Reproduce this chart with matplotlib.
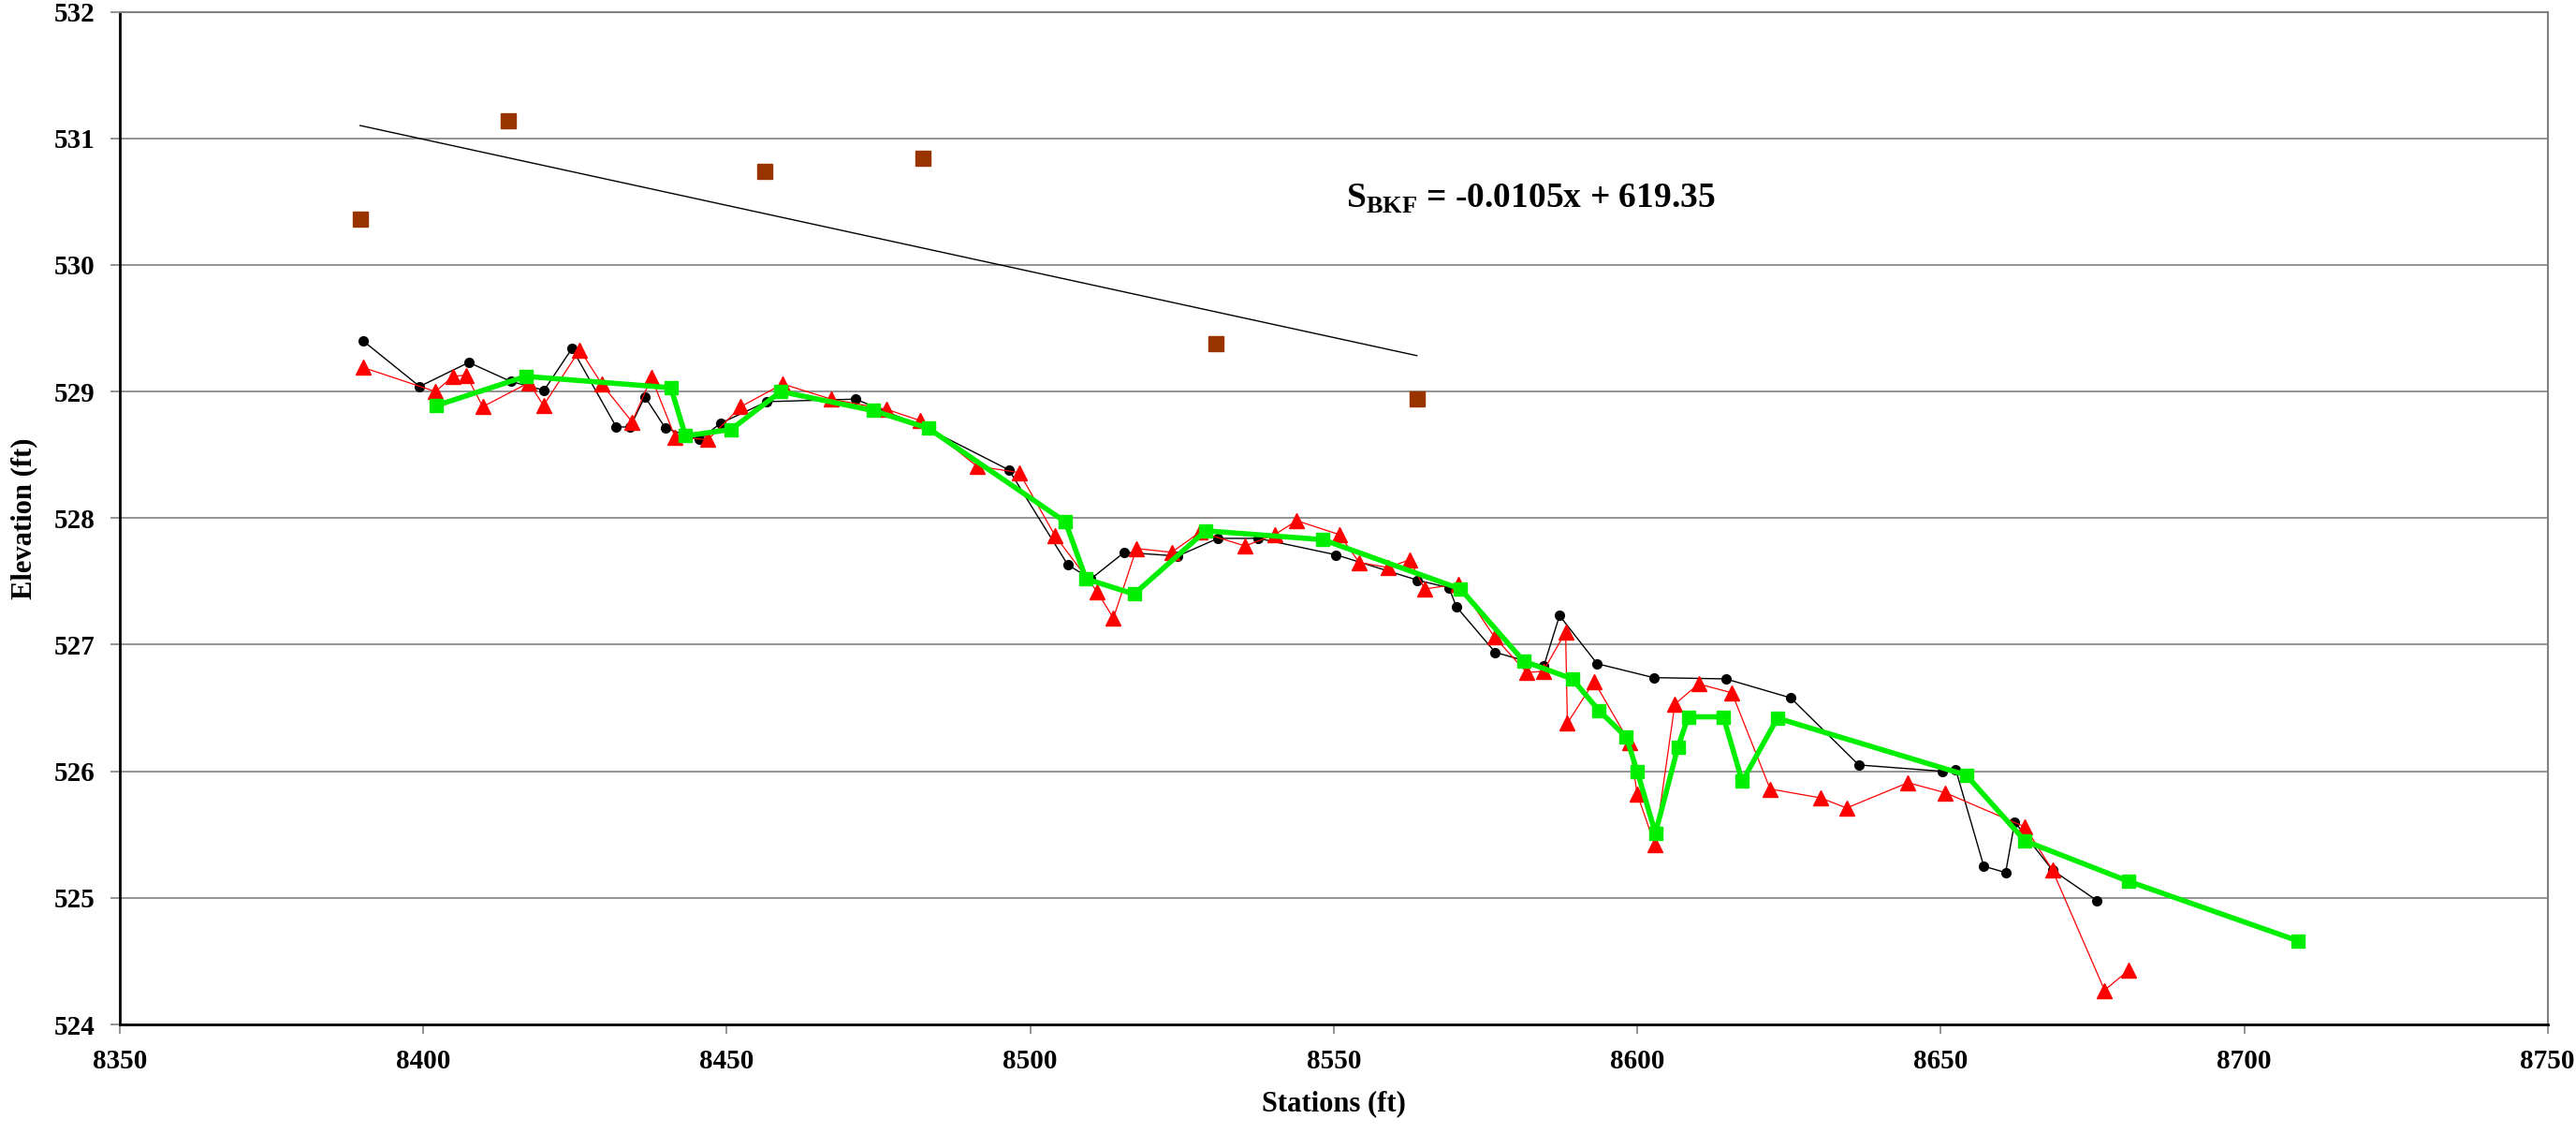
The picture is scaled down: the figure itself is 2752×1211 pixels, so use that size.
import numpy as np
import matplotlib
matplotlib.use("Agg")
import matplotlib.pyplot as plt

plt.rcParams['font.family'] = ['Liberation Serif', 'DejaVu Serif']
plt.rcParams['font.weight'] = 'bold'
plt.rcParams['mathtext.fontset'] = 'custom'
plt.rcParams['mathtext.rm'] = 'Liberation Serif:bold'
plt.rcParams['mathtext.bf'] = 'Liberation Serif:bold'

# black profile (circles)
blk_x = [8390.1, 8399.4, 8407.5, 8414.4, 8419.9, 8424.5, 8431.8, 8434.1, 8436.5, 8439.9,
         8445.5, 8449.0, 8456.6, 8471.2, 8483.0, 8496.5, 8506.2, 8510.0, 8515.5, 8524.3,
         8530.9, 8537.6, 8550.4, 8563.8, 8569.0, 8570.2, 8576.6, 8584.6, 8587.2, 8593.4,
         8602.7, 8614.6, 8625.3, 8636.5, 8650.3, 8652.5, 8657.1, 8660.7, 8662.2, 8668.4,
         8675.7]
blk_y = [529.40, 529.04, 529.23, 529.08, 529.01, 529.34, 528.72, 528.72, 528.96, 528.71,
         528.62, 528.75, 528.92, 528.94, 528.71, 528.38, 527.63, 527.52, 527.73, 527.70,
         527.84, 527.84, 527.71, 527.51, 527.45, 527.30, 526.94, 526.83, 527.23, 526.85,
         526.74, 526.73, 526.58, 526.05, 526.00, 526.01, 525.25, 525.20, 525.60, 525.22,
         524.98]

# red profile (triangles)
red_x = [8390.1, 8402.0, 8404.9, 8407.1, 8409.8, 8417.4, 8419.8, 8425.8, 8429.4, 8434.4,
         8437.6, 8441.5, 8446.9, 8452.3, 8459.2, 8467.2, 8476.3, 8481.9, 8491.2, 8498.2,
         8504.1, 8511.0, 8513.7, 8517.5, 8523.3, 8528.0, 8535.4, 8540.3, 8543.9, 8550.9,
         8554.2, 8558.9, 8562.5, 8565.0, 8570.6, 8576.5, 8581.8, 8584.5, 8588.2, 8588.5,
         8592.9, 8598.7, 8600.0, 8602.9, 8606.2, 8610.1, 8615.6, 8621.9, 8630.2, 8634.5,
         8644.6, 8650.8, 8663.9, 8668.4, 8677.0, 8681.0]
red_y = [529.19, 529.00, 529.12, 529.13, 528.88, 529.07, 528.89, 529.33, 529.06, 528.76,
         529.11, 528.64, 528.62, 528.88, 529.06, 528.94, 528.86, 528.77, 528.41, 528.36,
         527.86, 527.42, 527.21, 527.76, 527.73, 527.89, 527.78, 527.87, 527.98, 527.87,
         527.65, 527.61, 527.67, 527.44, 527.48, 527.06, 526.78, 526.79, 527.10, 526.38,
         526.71, 526.23, 525.82, 525.42, 526.53, 526.69, 526.62, 525.86, 525.79, 525.71,
         525.91, 525.83, 525.56, 525.22, 524.27, 524.43]

# green profile (squares)
grn_x = [8402.2, 8416.9, 8440.8, 8443.2, 8450.7, 8458.9, 8474.1, 8483.2, 8505.8, 8509.2,
         8517.1, 8528.9, 8548.2, 8570.9, 8581.3, 8589.3, 8593.7, 8598.2, 8600.0, 8603.0,
         8606.7, 8608.4, 8614.2, 8617.3, 8623.1, 8654.2, 8663.9, 8681.0, 8708.9]
grn_y = [528.89, 529.12, 529.03, 528.65, 528.70, 529.00, 528.85, 528.71, 527.97, 527.52,
         527.40, 527.90, 527.83, 527.44, 526.87, 526.73, 526.48, 526.27, 526.00, 525.51,
         526.19, 526.43, 526.43, 525.92, 526.42, 525.97, 525.45, 525.13, 524.66]

# bankfull points
bkf_x = [8389.6, 8414.0, 8456.3, 8482.3, 8530.6, 8563.7]
bkf_y = [530.36, 531.14, 530.74, 530.84, 529.38, 528.94]

fig = plt.figure(figsize=(27.52, 12.11), dpi=100)
ax = fig.add_axes([0.0465, 0.0966, 0.9425, 0.893])

ax.plot(blk_x, blk_y, color='black', lw=1.0, marker='o', ms=7, zorder=3)
ax.plot(red_x, red_y, color='red', lw=0.9, marker='^', ms=11, zorder=4)
ax.plot(grn_x, grn_y, color='#00EE00', lw=4, marker='s', ms=10, zorder=5)
ax.plot(bkf_x, bkf_y, ls='none', marker='s', ms=12, color='#993300', zorder=6)

# linear trend of bankfull points
p = np.polyfit(bkf_x, bkf_y, 1)
tx = np.array([bkf_x[0], bkf_x[-1]])
ax.plot(tx, np.polyval(p, tx), color='black', lw=1.0, zorder=2)

ax.text(8552, 530.52, r'S$_{\mathrm{BKF}}$ = -0.0105x + 619.35', fontsize=27,
        fontweight='bold', ha='left', va='center')

ax.set_xlim(8350, 8750)
ax.set_ylim(524, 532)
ax.set_xticks(np.arange(8350, 8751, 50))
ax.set_yticks(np.arange(524, 533, 1))
ax.yaxis.grid(True, color='#808080', lw=1.2)
ax.set_axisbelow(True)
ax.tick_params(axis='both', labelsize=21, length=7, width=1.2, pad=12, color='#808080')
for lab in ax.get_xticklabels() + ax.get_yticklabels():
    lab.set_fontweight('bold')

ax.spines['left'].set_linewidth(2)
ax.spines['bottom'].set_linewidth(2)
ax.spines['top'].set_color('#808080')
ax.spines['right'].set_color('#808080')
ax.spines['top'].set_linewidth(1.5)
ax.spines['right'].set_linewidth(1.5)

ax.set_xlabel('Stations (ft)', fontsize=22, fontweight='bold', labelpad=12)
ax.set_ylabel('Elevation (ft)', fontsize=22, fontweight='bold')
ax.yaxis.set_label_coords(-0.034, 0.5)

fig.savefig('out.png', dpi=100)
